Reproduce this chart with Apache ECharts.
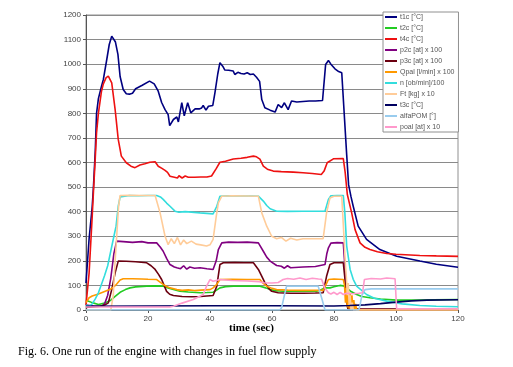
<!DOCTYPE html>
<html>
<head>
<meta charset="utf-8">
<script src="https://cdn.jsdelivr.net/npm/echarts@6/dist/echarts.min.js"></script>
<style>
html,body{margin:0;padding:0;background:#fff;}
#chart{width:513px;height:367px;}
</style>
</head>
<body>
<div id="chart"></div>
<script>
// ---- data: [time (sec), value] ----
const seriesNames = ["t1c [°C]", "t2c [°C]", "t4c [°C]", "p2c [at] x 100", "p3c [at] x 100", "Qpal [l/min] x 100", "n [ob/min]/100", "Ft [kg] x 10", "t3c [°C]", "alfaPOM [°]", "poal [at] x 10"];
const xTicks = [0, 20, 40, 60, 80, 100, 120];
const yTicks = [0, 100, 200, 300, 400, 500, 600, 700, 800, 900, 1000, 1100, 1200];

const t1c = [[0,110],[1,290],[2,420],[2.4,500],[3,650],[3.4,800],[4,860],[5,910],[5.6,938],[6.7,1019],[7.5,1080],[8.3,1114],[8.6,1117],[9.5,1090],[10.3,1040],[11,950],[12,897],[13,880],[14,878],[15,882],[16,900],[18,913],[20.5,931],[22,920],[23.3,890],[24.4,844],[25.5,815],[26.5,795],[27,750],[28.2,775],[29.3,785],[29.8,765],[30.9,843],[31.7,790],[32.8,843],[33.8,802],[35.2,818],[36.5,818],[37.3,822],[37.8,832],[38.7,813],[39.5,829],[40.9,832],[41.6,884],[42.5,960],[43.2,1006],[44.1,992],[44.8,976],[46,975],[47.5,972],[48,958],[49,967],[50,962],[51,960],[52,965],[53,958],[54,960],[55,947],[56,930],[56.7,856],[57.7,823],[59.4,813],[61,805],[62,836],[63.1,823],[64,843],[65.2,815],[66.3,850],[68,846],[70,848],[72,850],[74,850],[76.3,852],[77.3,999],[78.2,1015],[79,1000],[80.3,981],[81.5,970],[82.5,965],[83,958],[84.1,630],[84.7,510],[85.5,460],[86.2,422],[87.8,341],[90.5,287],[94.8,246],[100.2,219],[107.7,199],[113,186],[120,174]];
const t2c = [[0,40],[2,30],[4,22],[6,28],[8,40],[9.5,56],[11,72],[12.7,83],[14.2,90],[16,94],[19.6,97],[22,98],[24.9,97],[26.5,90],[28.2,83],[30.3,76],[33,73],[36.8,70],[39,71],[41,72],[42,80],[43.2,90],[45,95],[47.5,97],[52,97],[56.1,97],[58,90],[59.4,83],[61,79],[63.6,76],[70,76],[74.4,76],[75.8,82],[77.1,90],[78.7,90],[80,95],[81.9,100],[83,98],[84.1,90],[85.5,75],[87.3,63],[89,55],[91.6,50],[95,45],[100.2,40],[107.7,40],[112,42],[120,43]];
const t4c = [[0,20],[1,150],[2,380],[2.4,480],[3,620],[3.4,720],[4,800],[5,890],[5.6,920],[6.5,945],[7.2,951],[7.8,945],[8.3,924],[9.4,815],[10.4,694],[11.4,626],[13,599],[14.5,585],[15.8,579],[17.4,590],[19,595],[20.6,601],[22.3,603],[23.3,585],[24.5,576],[25.5,568],[26.3,560],[27.1,544],[28.5,540],[29.5,537],[30,546],[31,537],[32,545],[33,540],[35,540],[37,541],[39,541],[40.5,545],[41,551],[42,575],[43.2,601],[45,605],[47.5,614],[50,617],[52,621],[54,626],[55,623],[56.1,614],[57.2,585],[58.5,573],[60.4,565],[63,563],[66.9,561],[70,558],[73,555],[75.9,551],[76.8,565],[77.8,599],[79.8,615],[83,616],[83.6,560],[84.3,470],[85.7,395],[86.8,327],[88.4,273],[90,255],[91.6,246],[94,237],[97,230],[100,227],[107.7,222],[113,220],[120,218]];
const p2c = [[0,20],[3,15],[5,15],[6,25],[7,60],[8,130],[9,230],[9.9,280],[12,278],[15,275],[18,278],[20,273],[22.8,273],[24,255],[24.9,239],[26,210],[27.1,185],[28.5,175],[29.3,172],[30.5,168],[31.5,180],[32.5,166],[33.5,175],[35,170],[36.8,172],[39,168],[41,165],[42,200],[42.7,246],[43.8,273],[46,276],[49,275],[52,276],[55.6,273],[57.2,239],[58.3,215],[59.4,199],[61.5,181],[63,178],[64,170],[65,180],[66,172],[70,175],[74,177],[77.1,185],[77.7,230],[78.2,253],[79,272],[81,274],[83,273],[83.4,200],[84,60],[84.5,10],[86,2],[120,2]];
const p3c = [[0,10],[4.5,15],[6,20],[7.2,29],[8.3,83],[9.4,151],[10.4,199],[13,198],[16,196],[19.6,192],[21,180],[22.3,165],[23.4,145],[24.4,124],[25.2,100],[26,76],[27,64],[28.2,59],[31,55],[34,54],[37,55],[41,59],[42.2,97],[43.2,185],[44.3,192],[48,193],[51,192],[54,192],[55.6,165],[56.6,140],[57.7,111],[58.8,90],[59.9,76],[62,70],[66,68],[70,68],[74,69],[76.5,70],[77.6,137],[78.7,185],[80,192],[83,192],[83.5,130],[84,40],[84.5,5],[120,3]];
const qpal = [[0,30],[1,50],[2,57],[4,65],[6,75],[8,85],[9.5,100],[11,122],[12,127],[15,127],[18,126],[20,125],[22.8,124],[24,112],[24.9,104],[26,96],[27.1,90],[29.3,83],[31,80],[33,82],[35,79],[37,81],[40,83],[41,90],[42.2,104],[43.2,124],[47,125],[52,124],[56.1,124],[57,110],[58.3,97],[60,88],[61.5,83],[65,81],[70,80],[73,80],[76.5,80],[77.3,100],[78.2,124],[80,126],[83,124],[83.4,100],[83.7,30],[84,90],[84.3,10],[84.6,80],[84.9,5],[85.2,70],[85.5,0],[85.8,60],[86.1,0],[86.4,40],[86.7,0],[87,25],[87.3,0],[120,0]];
const nRpm = [[0,20],[1,15],[2,25],[3,45],[4,70],[5,105],[6,140],[7,180],[8,240],[9,300],[9.7,341],[10.4,422],[11,460],[11.5,466],[14,466],[17,465],[20,466],[22.8,466],[24,460],[24.9,450],[26,435],[27.1,422],[28.7,402],[30,398],[32,400],[34,398],[36.8,395],[39,393],[41,391],[42.2,422],[43.2,463],[46,465],[50,464],[53,464],[55.6,463],[57.2,443],[58.3,425],[59.4,412],[61.5,402],[65,401],[70,402],[74,402],[77.1,402],[78.2,450],[79,465],[81,466],[83,466],[83.5,395],[84.1,260],[85.2,165],[86.2,125],[87.3,97],[90.5,63],[93,48],[97,36],[102,25],[107.7,18],[113,15],[120,13]];
const ft = [[0,0],[8,0],[8.8,60],[9.3,180],[9.9,300],[10.5,420],[11,466],[14,467],[18,466],[22.3,466],[23.9,395],[25.5,300],[26.5,266],[27.5,290],[28.5,270],[29.5,295],[30.5,265],[31.5,285],[32.5,270],[34,280],[35.5,268],[37,265],[38.9,260],[40,265],[41,287],[42,380],[42.7,436],[43.8,463],[47,465],[52,464],[55.6,463],[56.7,395],[58.3,341],[59.9,300],[61.5,290],[63,295],[64.5,280],[66,292],[68,285],[70,290],[73,290],[76.5,290],[77.6,395],[78.7,456],[80,463],[82.5,463],[83.2,300],[83.6,200],[84,130],[84.3,60],[84.6,110],[84.9,20],[85.2,60],[85.5,0],[85.9,30],[86.2,0],[120,0]];
const t3c = [[0,15],[20,16],[40,17],[60,17],[80,16],[85,18],[90,21],[95,26],[100,32],[105,37],[110,40],[120,42]];
const alfaPOM = [[0,0],[62.5,0],[63.1,9],[64,60],[64.7,97],[67,97],[70,97],[74.9,97],[76,50],[77.1,0],[88,0],[88.4,20],[89,60],[90,83],[92,86],[100,86],[110,86],[120,86]];
const poal = [[0,12],[27,12],[28.2,15],[31,28],[34.6,43],[37.8,63],[38.9,97],[40,124],[41,117],[43.2,124],[47,120],[52,118],[56,115],[57.2,111],[60,110],[62,112],[63.6,124],[65,128],[67,125],[69,130],[71,124],[73,129],[75,126],[76,125],[77,90],[78.2,70],[79,65],[80,72],[81,63],[82,72],[83,63],[84,68],[86,66],[88,68],[89.2,70],[89.8,124],[92,128],[95,126],[97,130],[99.7,127],[100.2,5],[120,5]];

const seriesData = [t1c, t2c, t4c, p2c, p3c, qpal, nRpm, ft, t3c, alfaPOM, poal];
const colors = ["#000080", "#22cc22", "#ee1111", "#800080", "#6b0010", "#ff9900", "#33dddd", "#ffcc99", "#000060", "#99ccee", "#ff99cc"];

const chart = echarts.init(document.getElementById('chart'), null, {renderer: 'canvas'});
chart.setOption({
  animation: false,
  backgroundColor: '#ffffff',
  color: colors,
  grid: {left: 86, right: 55, top: 15, bottom: 57, show: true, borderColor: '#909090', borderWidth: 1, backgroundColor: 'transparent'},
  xAxis: {
    type: 'value', min: xTicks[0], max: xTicks[xTicks.length - 1], interval: 20,
    axisLine: {show: true, lineStyle: {color: '#555', width: 1}},
    axisTick: {show: true, length: 3, lineStyle: {color: '#555'}},
    axisLabel: {fontSize: 8, color: '#444', margin: 5, fontFamily: 'Liberation Sans', formatter: v => String(v)},
    splitLine: {show: false}
  },
  yAxis: {
    type: 'value', min: yTicks[0], max: yTicks[yTicks.length - 1], interval: 100,
    axisLine: {show: true, lineStyle: {color: '#555', width: 1}},
    axisTick: {show: true, length: 3, lineStyle: {color: '#555'}},
    axisLabel: {fontSize: 8, color: '#444', margin: 5, fontFamily: 'Liberation Sans', formatter: v => String(v)},
    splitLine: {show: true, lineStyle: {color: '#8a8a8a', width: 1}}
  },
  legend: {
    orient: 'vertical', left: 383, top: 12,
    icon: 'rect',
    itemWidth: 12, itemHeight: 2, itemGap: 3,
    padding: [1, 4, 1, 2],
    backgroundColor: '#ffffff', borderColor: '#909090', borderWidth: 1,
    textStyle: {fontSize: 7, lineHeight: 8, color: '#555', fontFamily: 'Liberation Sans', padding: [0, 0, 0, -2]},
    data: seriesNames
  },
  series: seriesNames.map((name, i) => ({
    name: name, type: 'line', data: seriesData[i], symbol: 'none', smooth: false,
    lineStyle: {width: 1.6, color: colors[i]}, itemStyle: {color: colors[i]}
  })),
  graphic: [
    {type: 'text', left: 229, top: 323, style: {text: 'time (sec)', font: 'bold 11px "Liberation Serif"', fill: '#000'}},
    {type: 'text', left: 18, top: 346, style: {text: 'Fig. 6. One run of the engine with changes in fuel flow supply', font: '12px "Liberation Serif"', fill: '#000'}}
  ]
});
</script>
</body>
</html>
